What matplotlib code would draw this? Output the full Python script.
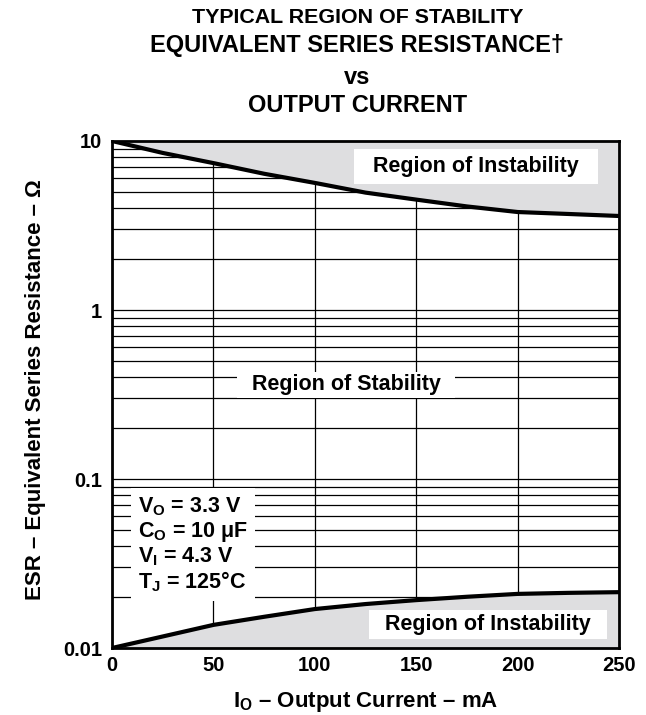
import matplotlib
matplotlib.use("Agg")
import matplotlib.pyplot as plt
from matplotlib.ticker import NullFormatter, LogLocator

plt.rcParams['font.family'] = ['Liberation Sans', 'DejaVu Sans']
plt.rcParams['font.weight'] = 'bold'
plt.rcParams['mathtext.fontset'] = 'custom'
plt.rcParams['mathtext.rm'] = 'Liberation Sans:bold'
plt.rcParams['mathtext.bf'] = 'Liberation Sans:bold'

# output current (mA) and ESR boundaries (ohm)
current = [0, 25, 50, 75, 100, 125, 150, 175, 200, 225, 250]
esr_upper = [10, 8.5, 7.4, 6.4, 5.65, 4.95, 4.5, 4.1, 3.8, 3.7, 3.6]
esr_lower = [0.01, 0.0117, 0.0137, 0.0153, 0.017, 0.0182, 0.0192, 0.0201, 0.0209, 0.0212, 0.0214]

xticks = [0, 50, 100, 150, 200, 250]
yticks = [0.01, 0.1, 1, 10]
ytick_labels = ['0.01', '0.1', '1', '10']

fig = plt.figure(figsize=(6.46, 7.15), dpi=100)
ax = fig.add_axes([0.1734, 0.0937, 0.7848, 0.7091])

ax.set_yscale('log')
ax.set_xlim(0, 250)
ax.set_ylim(0.01, 10)

gray = '#dedee0'
ax.fill_between(current, esr_upper, 10, color=gray, lw=0, zorder=2)
ax.fill_between(current, 0.01, esr_lower, color=gray, lw=0, zorder=2)
ax.plot(current, esr_upper, color='black', lw=3, zorder=3, solid_capstyle='butt')
ax.plot(current, esr_lower, color='black', lw=3, zorder=3, solid_capstyle='butt')

ax.set_xticks(xticks)
ax.set_xticklabels([str(v) for v in xticks])
ax.set_yticks(yticks)
ax.set_yticklabels(ytick_labels)
ax.yaxis.set_minor_locator(LogLocator(base=10, subs=range(2, 10)))
ax.yaxis.set_minor_formatter(NullFormatter())
ax.tick_params(which='both', length=0, labelsize=14.5)
ax.tick_params(axis='y', pad=7)
ax.tick_params(axis='x', pad=6)
for lab in ax.get_xticklabels() + ax.get_yticklabels():
    lab.set_fontweight('bold')

ax.set_axisbelow(True)
ax.grid(which='major', color='black', lw=0.9)
ax.grid(which='minor', axis='y', color='black', lw=0.9)
for sp in ax.spines.values():
    sp.set_linewidth(2)
    sp.set_zorder(4)

lab_size = 15.5
ax.text(179.5, 7.1, '  Region of Instability  ', ha='center', va='center',
        fontsize=lab_size, fontweight='bold',
        bbox=dict(facecolor='white', edgecolor='none', pad=5), zorder=5)
ax.text(185.5, 0.0137, '  Region of Instability  ', ha='center', va='center',
        fontsize=lab_size, fontweight='bold',
        bbox=dict(facecolor='white', edgecolor='none', pad=3), zorder=5)
ax.text(115.5, 0.36, '  Region of Stability  ', ha='center', va='center',
        fontsize=lab_size, fontweight='bold',
        bbox=dict(facecolor='white', edgecolor='none', pad=2), zorder=5)

cond = ('V$_\\mathregular{O}$ = 3.3 V\n'
        'C$_\\mathregular{O}$ = 10 \u03bcF\n'
        'V$_\\mathregular{I}$ = 4.3 V\n'
        'T$_\\mathregular{J}$ = 125\u00b0C')
ax.text(13, 0.08, cond, ha='left', va='top', fontsize=15.5, fontweight='bold',
        linespacing=1.1, bbox=dict(facecolor='white', edgecolor='none', pad=5), zorder=5)

ax.set_xlabel('I$_\\mathregular{O}$ \u2013 Output Current \u2013 mA', fontsize=16,
              fontweight='bold')
ax.xaxis.set_label_coords(0.5, -0.083)
ax.set_ylabel('ESR \u2013 Equivalent Series Resistance \u2013 \u03a9', fontsize=16,
              fontweight='bold')
ax.yaxis.set_label_coords(-0.13, 0.51)

fig.text(0.553, 0.975, 'TYPICAL REGION OF STABILITY', ha='center', va='center',
         fontsize=15.4, fontweight='bold')
fig.text(0.553, 0.937, 'EQUIVALENT SERIES RESISTANCE\u2020', ha='center', va='center',
         fontsize=17, fontweight='bold')
fig.text(0.553, 0.891, 'vs', ha='center', va='center', fontsize=17, fontweight='bold')
fig.text(0.553, 0.852, 'OUTPUT CURRENT', ha='center', va='center', fontsize=17,
         fontweight='bold')

fig.savefig('out.png', dpi=100)
